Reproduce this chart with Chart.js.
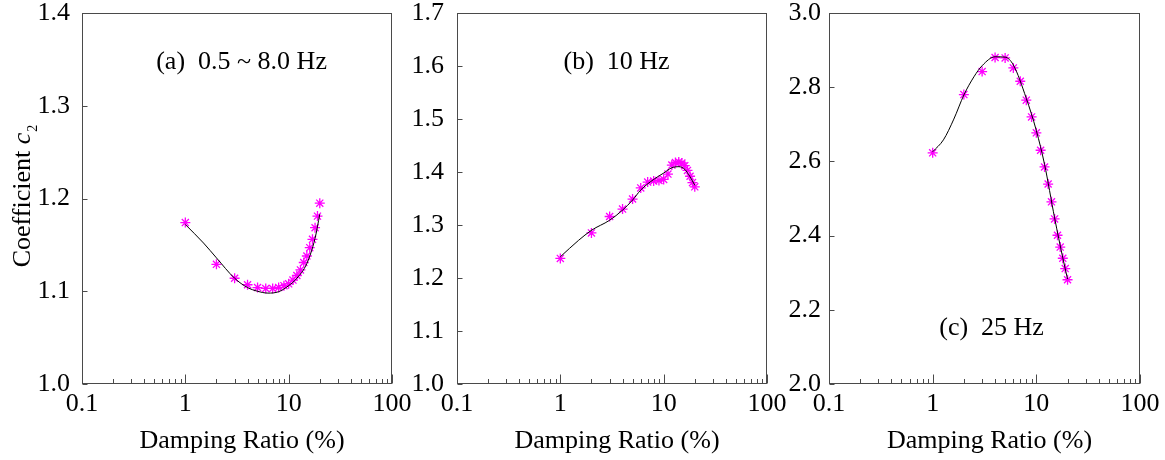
<!DOCTYPE html>
<html>
<head>
<meta charset="utf-8">
<script src="https://cdn.jsdelivr.net/npm/chart.js@4.4.1/dist/chart.umd.min.js"></script>
<style>
    html, body { margin: 0; padding: 0; background: #fff; }
    #wrap { position: relative; width: 1165px; height: 460px; overflow: hidden; }
    .panel { position: absolute; top: 0; height: 460px; }
    .panel canvas { display: block; }
</style>
</head>
<body>
<div id="wrap">
    <div class="panel" style="left:0;width:415px"><canvas id="chartA" width="415" height="460"></canvas></div>
    <div class="panel" style="left:400px;width:390px"><canvas id="chartB" width="390" height="460"></canvas></div>
    <div class="panel" style="left:780px;width:385px"><canvas id="chartC" width="385" height="460"></canvas></div>
</div>
<script>
// === DATA ===
// damping ratio (%) of the computed points
const dampingRatio = [1, 2, 3, 4, 5, 6, 7, 8, 9, 10, 11, 12, 13, 14, 15, 16, 17, 18, 19, 20];

// coefficient c2, computed points
const c2BandA = [1.174, 1.129, 1.114, 1.107, 1.104, 1.103, 1.103, 1.104, 1.106, 1.108,
                 1.112, 1.117, 1.123, 1.131, 1.138, 1.147, 1.156, 1.1685, 1.181, 1.195];
const c2At10Hz = [1.237, 1.285, 1.316, 1.330, 1.349, 1.370, 1.381, 1.383, 1.384, 1.386,
                  1.396, 1.413, 1.418, 1.419, 1.417, 1.412, 1.403, 1.392, 1.380, 1.372];
const c2At25Hz = [2.623, 2.780, 2.842, 2.880, 2.879, 2.852, 2.816, 2.765, 2.720, 2.677,
                  2.630, 2.585, 2.539, 2.491, 2.445, 2.401, 2.369, 2.339, 2.311, 2.281];

// fitted curves
const fitXA = [1, 1.5, 2, 3, 4, 5, 6.3, 8, 10, 12, 15, 18, 20];
const fitA  = [1.172, 1.152, 1.136, 1.114, 1.104, 1.100, 1.098, 1.0995, 1.106, 1.114, 1.130, 1.157, 1.183];
const fitXB = [1, 1.5, 2, 3, 4, 5, 6, 8, 10, 12, 14, 16, 18, 20];
const fitB  = [1.240, 1.271, 1.290, 1.309, 1.328, 1.347, 1.366, 1.386, 1.398, 1.408, 1.410, 1.405, 1.391, 1.375];
const fitXC = [1, 1.27, 1.6, 2, 2.5, 3, 4, 5, 6, 8, 10, 12, 15, 18, 20];
const fitC  = [2.626, 2.658, 2.714, 2.779, 2.828, 2.858, 2.882, 2.881, 2.860, 2.770, 2.683, 2.592, 2.448, 2.340, 2.283];

// axes
const xTickValues = [0.1, 0.2, 0.3, 0.4, 0.5, 0.6, 0.7, 0.8, 0.9,
                     1, 2, 3, 4, 5, 6, 7, 8, 9,
                     10, 20, 30, 40, 50, 60, 70, 80, 90, 100];
const xMajorTicks = [0.1, 1, 10, 100];
const xMajorLabels = ["0.1", "1", "10", "100"];
const yTicksA = [1.0, 1.1, 1.2, 1.3, 1.4];
const yTicksB = [1.0, 1.1, 1.2, 1.3, 1.4, 1.5, 1.6, 1.7];
const yTicksC = [2.0, 2.2, 2.4, 2.6, 2.8, 3.0];

const FONT = '"Liberation Serif", "Times New Roman", serif';
const FONT_SIZE = 26;
const MAGENTA = "#ff00ff";
const FRAME = "#4a4a4a";

const toPoints = (xs, ys) => xs.map((x, i) => ({ x: x, y: ys[i] }));

// frame, inward ticks, panel caption and axis titles
const framePlugin = {
    id: "frame",
    afterDraw(chart, args, opts) {
        const { ctx, chartArea: a, scales } = chart;
        const x = scales.x, y = scales.y;
        ctx.save();
        ctx.strokeStyle = FRAME;
        ctx.lineWidth = 1;
        ctx.strokeRect(Math.round(a.left) + 0.5, Math.round(a.top) + 0.5,
                       Math.round(a.right - a.left) - 1, Math.round(a.bottom - a.top) - 1);

        ctx.beginPath();
        const bottom = Math.round(a.bottom) - 0.5;
        xTickValues.forEach((v) => {
            const px = Math.round(x.getPixelForValue(v)) + 0.5;
            const len = xMajorTicks.includes(v) ? 9 : 4.5;
            ctx.moveTo(px, bottom);
            ctx.lineTo(px, bottom - len);
        });
        const left = Math.round(a.left) + 0.5;
        opts.yTicks.forEach((v) => {
            const py = Math.round(y.getPixelForValue(v)) + 0.5;
            ctx.moveTo(left, py);
            ctx.lineTo(left + 5, py);
        });
        ctx.stroke();

        ctx.fillStyle = "#000";
        ctx.font = FONT_SIZE + "px " + FONT;
        ctx.textAlign = "center";
        ctx.textBaseline = "middle";
        ctx.fillText(opts.caption, x.getPixelForValue(opts.captionX), y.getPixelForValue(opts.captionY));

        ctx.textBaseline = "alphabetic";
        ctx.fillText("Damping Ratio (%)", (a.left + a.right) / 2 + 5, 448);

        if (opts.yTitle) {
            // rotated title with italic c and subscript 2
            ctx.translate(30, 196);
            ctx.rotate(-Math.PI / 2);
            ctx.textAlign = "left";
            const word = "Coefficient ";
            ctx.font = FONT_SIZE + "px " + FONT;
            const w1 = ctx.measureText(word).width;
            ctx.font = "italic " + FONT_SIZE + "px " + FONT;
            const w2 = ctx.measureText("c").width;
            ctx.font = "14px " + FONT;
            const w3 = ctx.measureText("2").width;
            let cx = -(w1 + w2 + w3 + 1) / 2;
            ctx.font = FONT_SIZE + "px " + FONT;
            ctx.fillText(word, cx, 0);
            cx += w1;
            ctx.font = "italic " + FONT_SIZE + "px " + FONT;
            ctx.fillText("c", cx, 0);
            cx += w2 + 1;
            ctx.font = "14px " + FONT;
            ctx.fillText("2", cx, 7);
        }
        ctx.restore();
    },
};

function makePanel(id, cfg) {
    const ctx = document.getElementById(id).getContext("2d");
    return new Chart(ctx, {
        type: "scatter",
        data: {
            datasets: [
                {
                    label: "fit",
                    data: toPoints(cfg.fitX, cfg.fitY),
                    showLine: true,
                    borderColor: "#000",
                    borderWidth: 1,
                    pointRadius: 0,
                    cubicInterpolationMode: "monotone",
                },
                {
                    label: "c2",
                    data: toPoints(dampingRatio, cfg.values),
                    showLine: false,
                    pointStyle: "star",
                    pointRadius: 5,
                    borderColor: MAGENTA,
                    backgroundColor: MAGENTA,
                    pointBorderWidth: 1.3,
                },
            ],
        },
        options: {
            responsive: false,
            animation: false,
            devicePixelRatio: 1,
            layout: { padding: { top: 13, right: cfg.padRight, left: 0, bottom: 0 } },
            plugins: {
                legend: { display: false },
                tooltip: { enabled: false },
                frame: cfg.frame,
            },
            scales: {
                x: {
                    type: "logarithmic",
                    min: 0.1,
                    max: 100,
                    grid: { display: false, drawTicks: false },
                    border: { display: false },
                    afterBuildTicks: (scale) => {
                        scale.ticks = xTickValues.map((v) => ({ value: v }));
                    },
                    afterFit: (scale) => {
                        scale.height = 76;
                        scale.paddingLeft = 0;
                        scale.paddingRight = 0;
                    },
                    ticks: {
                        autoSkip: false,
                        maxRotation: 0,
                        padding: 5,
                        color: "#000",
                        font: { family: FONT, size: FONT_SIZE },
                        callback: (v) => {
                            const i = xMajorTicks.indexOf(v);
                            return i >= 0 ? xMajorLabels[i] : "";
                        },
                    },
                },
                y: {
                    type: "linear",
                    min: cfg.yTicks[0],
                    max: cfg.yTicks[cfg.yTicks.length - 1],
                    grid: { display: false, drawTicks: false },
                    border: { display: false },
                    afterBuildTicks: (scale) => {
                        scale.ticks = cfg.yTicks.map((v) => ({ value: v }));
                    },
                    afterFit: (scale) => {
                        scale.width = cfg.axisWidth;
                        scale.paddingTop = 0;
                        scale.paddingBottom = 0;
                    },
                    ticks: {
                        padding: cfg.labelPad,
                        color: "#000",
                        font: { family: FONT, size: FONT_SIZE },
                        callback: (v) => Number(v).toFixed(1),
                    },
                },
            },
        },
        plugins: [framePlugin],
    });
}

makePanel("chartA", {
    values: c2BandA, fitX: fitXA, fitY: fitA, yTicks: yTicksA,
    axisWidth: 82, padRight: 23, labelPad: 12,
    frame: { yTicks: yTicksA, caption: "(a)  0.5 ~ 8.0 Hz", captionX: 3.5, captionY: 1.347, yTitle: true },
});
makePanel("chartB", {
    values: c2At10Hz, fitX: fitXB, fitY: fitB, yTicks: yTicksB,
    axisWidth: 57, padRight: 23, labelPad: 13,
    frame: { yTicks: yTicksB, caption: "(b)  10 Hz", captionX: 3.5, captionY: 1.6075, yTitle: false },
});
makePanel("chartC", {
    values: c2At25Hz, fitX: fitXC, fitY: fitC, yTicks: yTicksC,
    axisWidth: 49, padRight: 25, labelPad: 8,
    frame: { yTicks: yTicksC, caption: "(c)  25 Hz", captionX: 3.7, captionY: 2.151, yTitle: false },
});
</script>
</body>
</html>
